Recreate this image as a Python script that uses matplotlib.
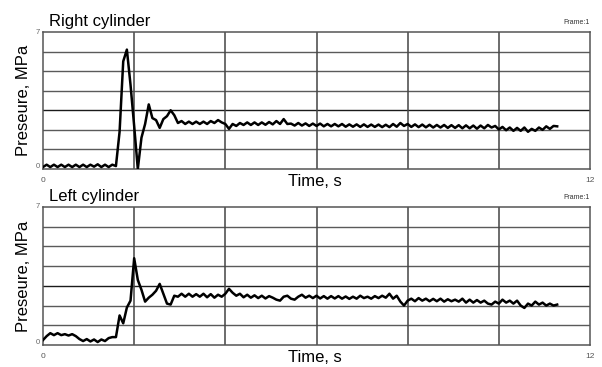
import numpy as np
from matplotlib import pyplot as plt
from matplotlib import rc

rc('font', family=['Liberation Sans', 'DejaVu Sans'])

dt = 0.08  # sampling step of the recorder, s

# right cylinder pressure, MPa (one row = 0.8 s)
right_p = [
    0.10, 0.22, 0.10, 0.22, 0.10, 0.22, 0.10, 0.22, 0.10, 0.22,
    0.10, 0.22, 0.10, 0.22, 0.12, 0.24, 0.10, 0.22, 0.10, 0.22,
    0.15, 1.90, 5.50, 6.10, 4.30, 2.20, 0.00, 1.60, 2.30, 3.30,
    2.60, 2.50, 2.10, 2.55, 2.70, 3.00, 2.75, 2.35, 2.45, 2.30,
    2.42, 2.30, 2.42, 2.30, 2.42, 2.30, 2.45, 2.35, 2.50, 2.38,
    2.30, 2.05, 2.30, 2.20, 2.35, 2.25, 2.38, 2.25, 2.38, 2.25,
    2.38, 2.26, 2.40, 2.28, 2.45, 2.30, 2.55, 2.30, 2.32, 2.22,
    2.35, 2.22, 2.33, 2.20, 2.32, 2.20, 2.32, 2.18, 2.30, 2.18,
    2.30, 2.18, 2.30, 2.16, 2.28, 2.16, 2.28, 2.15, 2.28, 2.15,
    2.27, 2.15, 2.27, 2.14, 2.26, 2.14, 2.30, 2.16, 2.35, 2.20,
    2.30, 2.15, 2.28, 2.14, 2.27, 2.13, 2.26, 2.12, 2.25, 2.12,
    2.25, 2.10, 2.24, 2.10, 2.24, 2.08, 2.23, 2.08, 2.22, 2.06,
    2.22, 2.08, 2.25, 2.12, 2.20, 2.02, 2.15, 1.98, 2.12, 1.95,
    2.10, 1.95, 2.12, 1.90, 2.05, 1.95, 2.12, 2.00, 2.18, 2.05,
    2.20, 2.18,
]

# left cylinder pressure, MPa
left_p = [
    0.25, 0.45, 0.60, 0.50, 0.60, 0.50, 0.55, 0.48, 0.55, 0.45,
    0.30, 0.20, 0.30, 0.18, 0.28, 0.15, 0.28, 0.20, 0.35, 0.40,
    0.40, 1.50, 1.10, 1.90, 2.25, 4.40, 3.30, 2.80, 2.20, 2.40,
    2.55, 2.75, 3.10, 2.60, 2.10, 2.05, 2.50, 2.45, 2.60, 2.45,
    2.60, 2.45, 2.58, 2.45, 2.60, 2.42, 2.58, 2.40, 2.55, 2.45,
    2.60, 2.85, 2.65, 2.50, 2.60, 2.42, 2.55, 2.40, 2.52, 2.38,
    2.50, 2.36, 2.48, 2.40, 2.30, 2.25, 2.45, 2.50, 2.35, 2.30,
    2.45, 2.55, 2.40, 2.50, 2.38, 2.50, 2.36, 2.48, 2.35, 2.48,
    2.36, 2.48, 2.35, 2.46, 2.34, 2.45, 2.35, 2.50, 2.38, 2.45,
    2.35, 2.48, 2.38, 2.50, 2.40, 2.60, 2.35, 2.50, 2.20, 2.00,
    2.25, 2.35, 2.22, 2.38, 2.25, 2.35, 2.22, 2.34, 2.22, 2.35,
    2.20, 2.32, 2.22, 2.30, 2.20, 2.35, 2.15, 2.30, 2.15, 2.28,
    2.15, 2.25, 2.10, 2.05, 2.20, 2.10, 2.30, 2.15, 2.25, 2.10,
    2.25, 2.00, 1.88, 2.10, 2.00, 2.20, 2.05, 2.15, 2.00, 2.10,
    2.00, 2.05,
]

titles = ['Right cylinder', 'Left cylinder']
series = [right_p, left_p]

fig = plt.figure(figsize=(6.02, 3.67), dpi=100)
W, H = 602, 367
boxes = [(43, 32, 590, 169), (43, 207, 590, 345)]  # pixel boxes l, t, r, b

for (l, t, r, b), title, p in zip(boxes, titles, series):
    ax = fig.add_axes([l / W, 1 - b / H, (r - l) / W, (b - t) / H])
    tt = np.arange(len(p)) * dt
    ax.set_xlim(0, 12)
    ax.set_ylim(0, 7)
    for yv in range(1, 7):
        ax.axhline(yv, color='#1a1a1a' if yv == 3 else '#5a5a5a', lw=1, zorder=1)
    for xv in range(2, 12, 2):
        ax.axvline(xv, color='#444444', lw=1.1, zorder=1)
    ax.plot(tt, p, 'k-', lw=1.8, solid_joinstyle='round', zorder=3)
    ax.set_xticks([])
    ax.set_yticks([])
    for s in ax.spines.values():
        s.set_color('#555555')
        s.set_linewidth(1.1)

    fig.text((l + 6) / W, 1 - (t - 6) / H, title, fontsize=12, va='baseline')
    fig.text(r / W, 1 - (t - 8) / H, 'Frame:1', fontsize=5, ha='right',
             va='baseline', color='#333333')
    fig.text((l - 3) / W, 1 - t / H, '7', fontsize=5.5, ha='right', va='center',
             color='#666666')
    fig.text((l - 3) / W, 1 - (b - 2) / H, '0', fontsize=5.5, ha='right',
             va='center', color='#666666')
    fig.text(l / W, 1 - (b + 11) / H, '0', fontsize=6, ha='center', va='center',
             color='#555555')
    fig.text(r / W, 1 - (b + 11) / H, '12', fontsize=6, ha='center', va='center',
             color='#555555')
    fig.text(315 / W, 1 - (b + 13) / H, 'Time, s', fontsize=12, ha='center',
             va='center')
    fig.text(24 / W, 1 - ((t + b) / 2) / H, 'Preseure, MPa', fontsize=12,
             rotation=90, ha='center', va='center')

plt.savefig('out.png', dpi=100)
